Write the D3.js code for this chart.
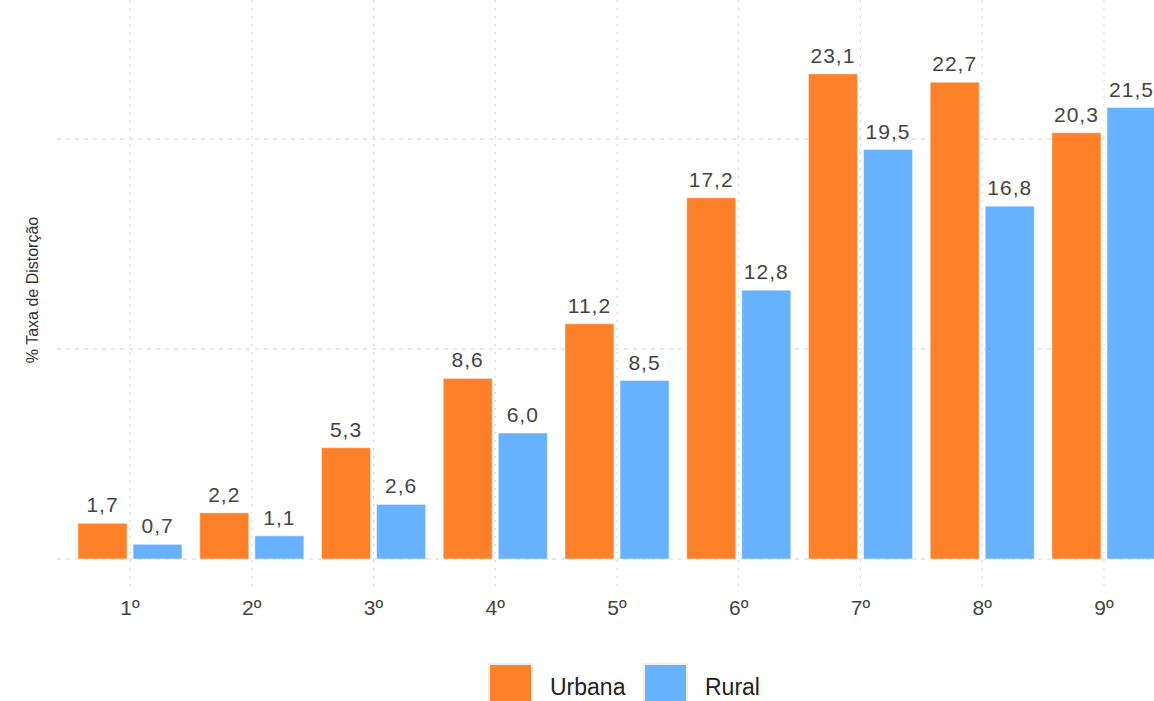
<!DOCTYPE html>
<html><head><meta charset="utf-8">
<script src="https://cdn.jsdelivr.net/npm/d3@7"></script>
<style>body{margin:0;background:#fff;overflow:hidden}</style>
</head><body><svg id="c" width="1154" height="701"></svg>
<script>
const categories = ["1º","2º","3º","4º","5º","6º","7º","8º","9º"];
const seriesNames = ["Urbana","Rural"];
const urbana = [1.7,2.2,5.3,8.6,11.2,17.2,23.1,22.7,20.3];
const rural = [0.7,1.1,2.6,6.0,8.5,12.8,19.5,16.8,21.5];
const yTicks = [0,10,20];
const colors = ["#FE812A","#66B2FF"];

const svg = d3.select("#c");
const font = "'Liberation Sans', Arial, Helvetica, sans-serif";
const x = d3.scaleBand().domain(categories).range([57,1177]).paddingOuter(0.1).paddingInner(0);
const y = d3.scaleLinear().domain([0,20]).range([559,139]);
const plotTop = 0, plotBottom = 586;

svg.append("g").selectAll("line").data(categories).join("line")
  .attr("x1",d=>x(d)+x.bandwidth()/2).attr("x2",d=>x(d)+x.bandwidth()/2)
  .attr("y1",plotTop).attr("y2",plotBottom)
  .attr("stroke","#d4d4d4").attr("stroke-width",1).attr("stroke-dasharray","2,6");
svg.append("g").selectAll("line").data(yTicks).join("line")
  .attr("x1",57).attr("x2",1177).attr("y1",d=>y(d)).attr("y2",d=>y(d))
  .attr("stroke","#d4d4d4").attr("stroke-width",1).attr("stroke-dasharray","4,5");

const x1 = d3.scaleBand().domain([0,1]).range([0,x.bandwidth()*0.855]).paddingInner(0.11);
const off = (x.bandwidth() - x.bandwidth()*0.855)/2;
const data = [];
categories.forEach((c,i)=>{ data.push({c,s:0,v:urbana[i]}); data.push({c,s:1,v:rural[i]}); });

svg.append("g").selectAll("rect").data(data).join("rect")
  .attr("x",d=>x(d.c)+off+x1(d.s)).attr("width",x1.bandwidth())
  .attr("y",d=>y(d.v)).attr("height",d=>y(0)-y(d.v))
  .attr("fill",d=>colors[d.s]).attr("stroke","rgba(255,255,255,0.45)").attr("stroke-width",1);

svg.append("g").selectAll("text").data(data).join("text")
  .attr("x",d=>x(d.c)+off+x1(d.s)+x1.bandwidth()/2).attr("y",d=>y(d.v)-11)
  .attr("text-anchor","middle").attr("font-family",font).attr("font-size",21)
  .attr("letter-spacing","1px")
  .attr("fill","#444").text(d=>d.v.toFixed(1).replace(".",","));

svg.append("g").selectAll("text").data(categories).join("text")
  .attr("x",d=>x(d)+x.bandwidth()/2).attr("y",615)
  .attr("text-anchor","middle").attr("font-family",font).attr("font-size",21)
  .attr("fill","#444").text(d=>d);

svg.append("text").attr("transform","translate(38,290) rotate(-90)")
  .attr("text-anchor","middle").attr("font-family",font).attr("font-size",16)
  .attr("fill","#333").text("% Taxa de Distorção");

const legX = [489,644];
const leg = svg.append("g").selectAll("g").data(seriesNames).join("g")
  .attr("transform",(d,i)=>`translate(${legX[i]},664)`);
leg.append("rect").attr("width",43).attr("height",43)
  .attr("fill",(d,i)=>colors[i]).attr("stroke","#eee").attr("stroke-width",2);
leg.append("text").attr("x",61).attr("y",31).attr("font-family",font).attr("font-size",23)
  .attr("fill","#222").text(d=>d);
</script></body></html>
